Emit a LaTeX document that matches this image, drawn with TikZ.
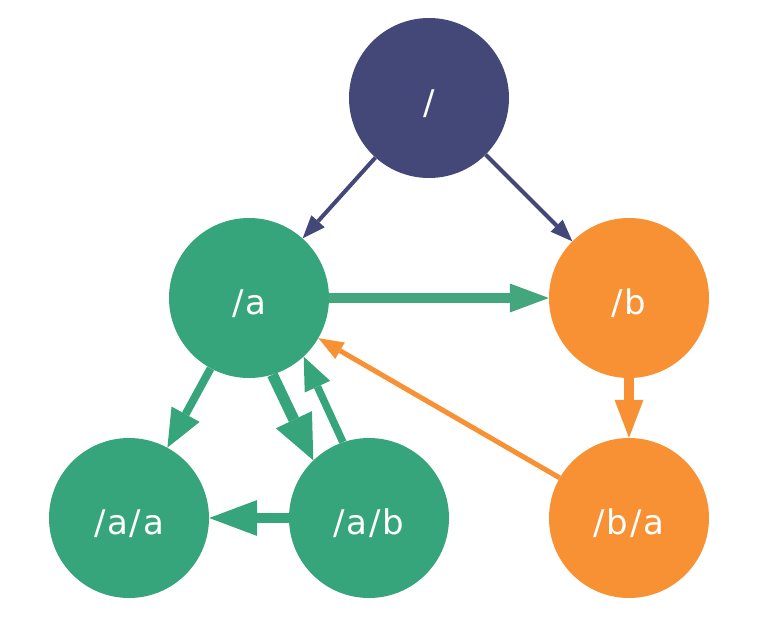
\documentclass[tikz,border=0pt]{standalone}
\usepackage{fontspec}
\setmainfont{DejaVu Sans}[LetterSpace=5]
\usetikzlibrary{arrows.meta}
\definecolor{rootblue}{RGB}{67,72,120}
\definecolor{pathgreen}{RGB}{55,165,123}
\definecolor{linkgreen}{RGB}{67,166,125}
\definecolor{pathorange}{RGB}{248,145,52}
\tikzset{
  % fixed text height/depth puts the baseline 16pt below the centre
  dirnode/.style={circle, minimum size=160pt, inner sep=0pt, text=white,
    text height=32pt, text depth=0pt,
    font=\fontsize{34}{40}\selectfont},
  edge/.style args={#1/#2/#3/#4}{draw=#1, line width=#2,
    -{Triangle[length=#3, width=#4, line width=0pt]}, color=#1},
}
\begin{document}
\begin{tikzpicture}[x=1pt, y=-1pt]
  \useasboundingbox (0,0) rectangle (764,640);

  % directory nodes
  \node[dirnode, fill=rootblue]   (root) at (429,98)  {/};
  \node[dirnode, fill=pathgreen]  (a)    at (249,298) {/a};
  \node[dirnode, fill=pathorange] (b)    at (629,298) {/b};
  \node[dirnode, fill=pathgreen]  (aa)   at (129,518) {/a/a};
  \node[dirnode, fill=pathgreen]  (ab)   at (369,518) {/a/b};
  \node[dirnode, fill=pathorange] (ba)   at (629,518) {/b/a};

  % links between directories
  \draw[edge={rootblue/4pt/23pt/18pt}] (root) -- (a);
  \draw[edge={rootblue/4pt/22pt/17pt}] (root) -- (b);
  \draw[edge={linkgreen/9.5pt/39pt/29pt}] (a) -- (b);
  \draw[edge={pathorange/10pt/38pt/29pt}] (b) -- (ba);
  \draw[edge={pathorange/5pt/25pt/19pt}] (ba) -- (a);
  \draw[edge={pathgreen/8pt/38pt/32pt}] (a) -- (aa);
  \draw[edge={pathgreen/11pt/45pt/40pt}] (a.-73) -- (ab.134);
  \draw[edge={pathgreen/7.5pt/33pt/28pt}] (ab.109) -- (a.-47);
  \draw[edge={pathgreen/10.5pt/48pt/36pt}] (ab) -- (aa);
\end{tikzpicture}
\end{document}
